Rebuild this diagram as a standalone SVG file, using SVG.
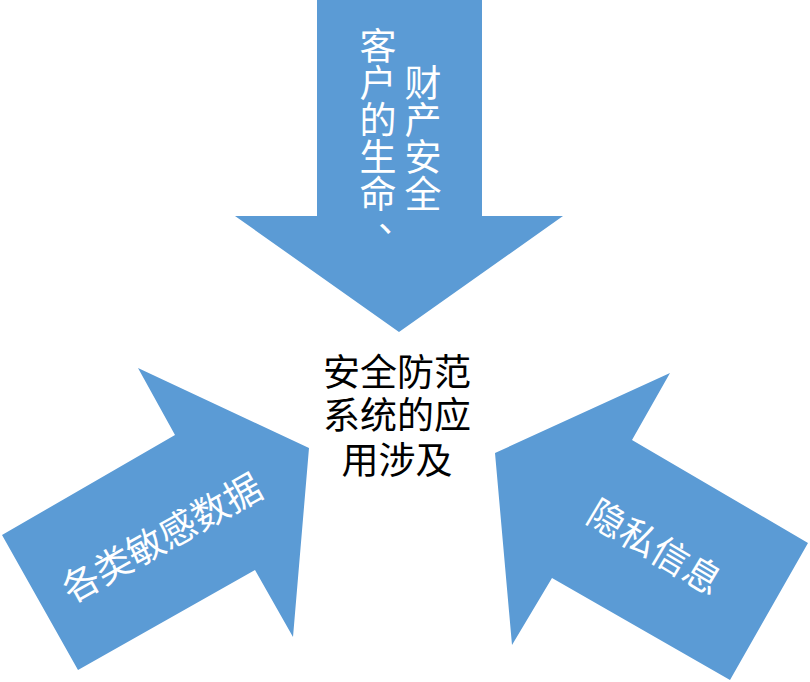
<svg xmlns="http://www.w3.org/2000/svg" width="810" height="682" viewBox="0 0 810 682">
<style>
.arrow{fill:#5B9BD5;}
.lbl{font-family:"Noto Sans CJK SC","Noto Sans",sans-serif;font-size:37px;fill:#FFFFFF;}
.ctr{font-family:"Noto Sans CJK SC","Noto Sans",sans-serif;font-size:37px;fill:#000000;text-anchor:middle;}
.vert{writing-mode:vertical-rl;}
</style>
<rect width="810" height="682" fill="#FFFFFF"/>
<g id="connectors">
<g id="arrow-top">
<polygon class="arrow" points="317,0 482,0 482,216 563,216 399,332 235,216 317,216"/>
<text class="lbl vert" x="378" y="27.5">客户的生命</text>
<text class="lbl" x="378" y="232">、</text>
<text class="lbl vert" x="423" y="64.3">财产安全</text>
</g>
<g id="arrow-left">
<polygon class="arrow" points="138,368 175,435 2,535 78,670 255,570 293,637 309,448"/>
<text class="lbl" text-anchor="middle" transform="translate(161.5,537.5) rotate(-29.2)" x="0" y="14">各类敏感数据</text>
</g>
<g id="arrow-right">
<polygon class="arrow" points="495,453 670,373 632,440 808,543 730,680 552,578 512,645"/>
<text class="lbl" text-anchor="middle" transform="translate(655,546.5) rotate(30.7)" x="0" y="14">隐私信息</text>
</g>
</g>
<g id="center">
<text class="ctr" x="397" y="385.5">安全防范</text>
<text class="ctr" x="397" y="429">系统的应</text>
<text class="ctr" x="397" y="474">用涉及</text>
</g>
</svg>
